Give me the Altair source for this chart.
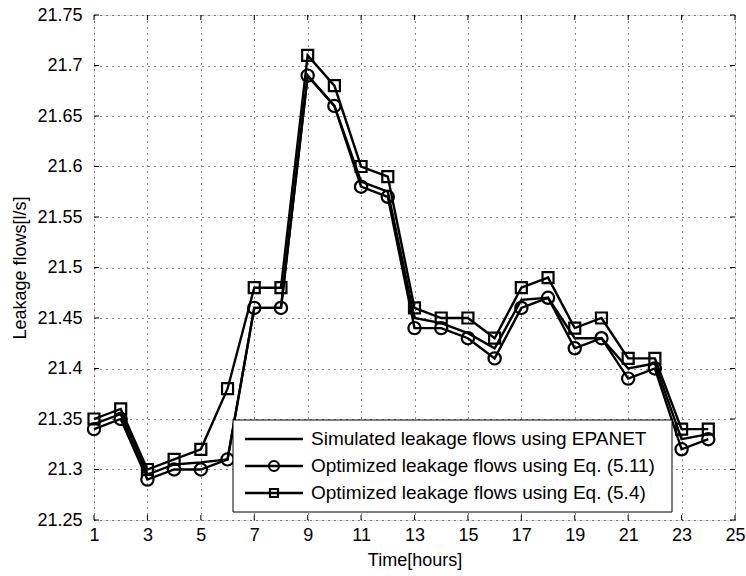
import altair as alt
import pandas as pd

hours = list(range(1, 25))
simulated = [21.345, 21.355, 21.295, 21.305, 21.307, 21.31, 21.46, 21.46, 21.69, 21.66,
             21.585, 21.575, 21.45, 21.445, 21.435, 21.42, 21.468, 21.47, 21.43, 21.43,
             21.40, 21.405, 21.33, 21.335]
eq511 = [21.34, 21.35, 21.29, 21.30, 21.30, 21.31, 21.46, 21.46, 21.69, 21.66,
         21.58, 21.57, 21.44, 21.44, 21.43, 21.41, 21.46, 21.47, 21.42, 21.43,
         21.39, 21.40, 21.32, 21.33]
eq54 = [21.35, 21.36, 21.30, 21.31, 21.32, 21.38, 21.48, 21.48, 21.71, 21.68,
        21.60, 21.59, 21.46, 21.45, 21.45, 21.43, 21.48, 21.49, 21.44, 21.45,
        21.41, 21.41, 21.34, 21.34]
series_names = ["Simulated leakage flows using EPANET",
                "Optimized leakage flows using Eq. (5.11)",
                "Optimized leakage flows using Eq. (5.4)"]
x_ticks = [1, 3, 5, 7, 9, 11, 13, 15, 17, 19, 21, 23, 25]
y_ticks = [21.25, 21.3, 21.35, 21.4, 21.45, 21.5, 21.55, 21.6, 21.65, 21.7, 21.75]

FONT = "Liberation Sans"
W, H = 641, 505

rows = []
for name, vals in zip(series_names, [simulated, eq511, eq54]):
    for h, v in zip(hours, vals):
        rows.append({"hour": h, "flow": v, "series": name})
df = pd.DataFrame(rows)

xs = alt.Scale(domain=[1, 25], nice=False, zero=False)
ys = alt.Scale(domain=[21.25, 21.75], nice=False, zero=False)

common = dict(labelFontSize=18, titleFontSize=18, titleFontWeight="normal", tickSize=0,
              domain=False, grid=True, gridDash=[1, 5], gridColor="#000", gridOpacity=0.9,
              labelColor="#000", titleColor="#000", labelFont=FONT, titleFont=FONT,
              labelFlush=False, labelOverlap=False)
x_axis = alt.Axis(values=x_ticks, title="Time[hours]", labelPadding=6, titlePadding=7, **common)
y_axis = alt.Axis(values=y_ticks, format="~g", title="Leakage flows[l/s]", labelPadding=12,
                  titlePadding=7, **common)

X = alt.X("hour:Q", scale=xs, axis=x_axis)
Y = alt.Y("flow:Q", scale=ys, axis=y_axis)

base = alt.Chart(df)
lines = base.mark_line(color="black", strokeWidth=2.4).encode(x=X, y=Y, detail="series:N")
circles = base.transform_filter(alt.datum.series == series_names[1]).mark_point(
    shape="circle", size=150, filled=False, color="black", strokeWidth=2.2, opacity=1
).encode(x=X, y=Y)
squares = base.transform_filter(alt.datum.series == series_names[2]).mark_point(
    shape="square", size=121, filled=False, color="black", strokeWidth=2.2, opacity=1
).encode(x=X, y=Y)

# inward ticks (MATLAB style box)
ytk = pd.DataFrame({"flow": y_ticks})
xtk = pd.DataFrame({"hour": x_ticks})
tk = []
tk.append(alt.Chart(ytk).mark_rule(color="black", strokeWidth=1).encode(
    y=Y, x=alt.value(0), x2=alt.value(5)))
tk.append(alt.Chart(ytk).mark_rule(color="black", strokeWidth=1).encode(
    y=Y, x=alt.value(W - 5), x2=alt.value(W)))
tk.append(alt.Chart(xtk).mark_rule(color="black", strokeWidth=1).encode(
    x=X, y=alt.value(H - 5), y2=alt.value(H)))
tk.append(alt.Chart(xtk).mark_rule(color="black", strokeWidth=1).encode(
    x=X, y=alt.value(0), y2=alt.value(5)))

# legend
one = pd.DataFrame({"k": [0]})
leg = [alt.Chart(one).mark_rect(fill="white", stroke="black", strokeWidth=1).encode(
    x=alt.value(139), x2=alt.value(578), y=alt.value(405), y2=alt.value(497))]
shapes = [None, "circle", "square"]
sizes = [0, 100, 64]
for i, (name, shp, sz) in enumerate(zip(series_names, shapes, sizes)):
    py = 424 + 27 * i
    leg.append(alt.Chart(one).mark_rule(color="black", strokeWidth=2.4).encode(
        x=alt.value(151), x2=alt.value(209), y=alt.value(py)))
    if shp:
        leg.append(alt.Chart(one).mark_point(shape=shp, size=sz, filled=False, color="black",
                                             strokeWidth=2.2, opacity=1).encode(
            x=alt.value(180), y=alt.value(py)))
    leg.append(alt.Chart(pd.DataFrame({"label": [name]})).mark_text(
        align="left", baseline="middle", fontSize=19, font=FONT, color="black").encode(
        x=alt.value(217), y=alt.value(py), text="label:N"))

chart = alt.layer(lines, circles, squares, *tk, *leg).properties(
    width=W, height=H,
    autosize=alt.AutoSizeParams(type="none"),
    padding={"left": 94, "top": 15, "right": 11, "bottom": 56},
).configure_view(stroke="black", strokeWidth=1).configure(background="white")

chart.save("out.html", embed_options={"renderer": "svg", "actions": False})
